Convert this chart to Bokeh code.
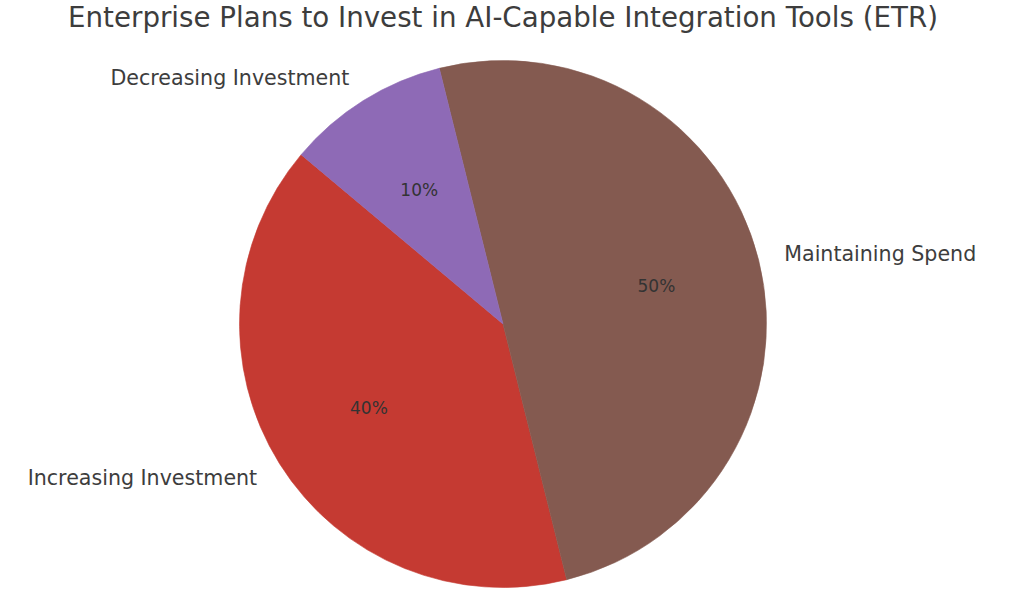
import math
from bokeh.plotting import figure
from bokeh.models import ColumnDataSource, Range1d
from bokeh.core.properties import value
from bokeh.embed import file_html
from bokeh.resources import INLINE

# Data
labels = ["Increasing Investment", "Maintaining Spend", "Decreasing Investment"]
shares = [40, 50, 10]
colors = ["#c53a32", "#845a50", "#8e6ab6"]
title_text = "Enterprise Plans to Invest in AI-Capable Integration Tools (ETR)"

W, H = 1008, 594
R_PX = 263.5
cx_px, cy_px = 502.5, 323.5  # pie centre within the figure (from top-left)

p = figure(width=W, height=H, output_backend="svg", toolbar_location=None,
           min_border=0, outline_line_color=None)
p.x_range = Range1d(-cx_px / R_PX, (W - cx_px) / R_PX)
p.y_range = Range1d(-(H - cy_px) / R_PX, cy_px / R_PX)
p.axis.visible = False
p.grid.visible = False
p.background_fill_color = "white"
p.border_fill_color = "white"

total = float(sum(shares))
start = math.radians(140)
starts, ends, lx, ly, px, py, align, pct = [], [], [], [], [], [], [], []
a = start
for v in shares:
    span = 2 * math.pi * v / total
    s, e = a, a + span
    starts.append(s)
    ends.append(e)
    mid = (s + e) / 2
    lx.append(1.1 * math.cos(mid))
    ly.append(1.1 * math.sin(mid))
    px.append(0.6 * math.cos(mid))
    py.append(0.6 * math.sin(mid))
    align.append("left" if math.cos(mid) > 0 else "right")
    pct.append(f"{v / total * 100:.0f}%")
    a = e

src = ColumnDataSource(dict(start=starts, end=ends, color=colors, label=labels,
                            lx=lx, ly=ly, px=px, py=py, align=align, pct=pct))

p.wedge(x=0, y=0, radius=1, start_angle="start", end_angle="end",
        fill_color="color", line_color="color", line_width=0.6, source=src)

p.text(x="lx", y="ly", text="label", text_align="align", text_baseline="middle",
       text_font=value("DejaVu Sans"), text_font_size="20.6px", text_color="#3d3d3d",
       source=src)
p.text(x="px", y="py", text="pct", text_align="center", text_baseline="middle",
       text_font=value("DejaVu Sans"), text_font_size="17px", text_color="#333333",
       source=src)

p.text(x=[0.0], y=[(cy_px - 16.5) / R_PX], text=[title_text],
       text_align="center", text_baseline="middle",
       text_font=value("DejaVu Sans"), text_font_size="27.7px", text_color="#3d3d3d")

open("out.html", "w").write(file_html(p, INLINE))
